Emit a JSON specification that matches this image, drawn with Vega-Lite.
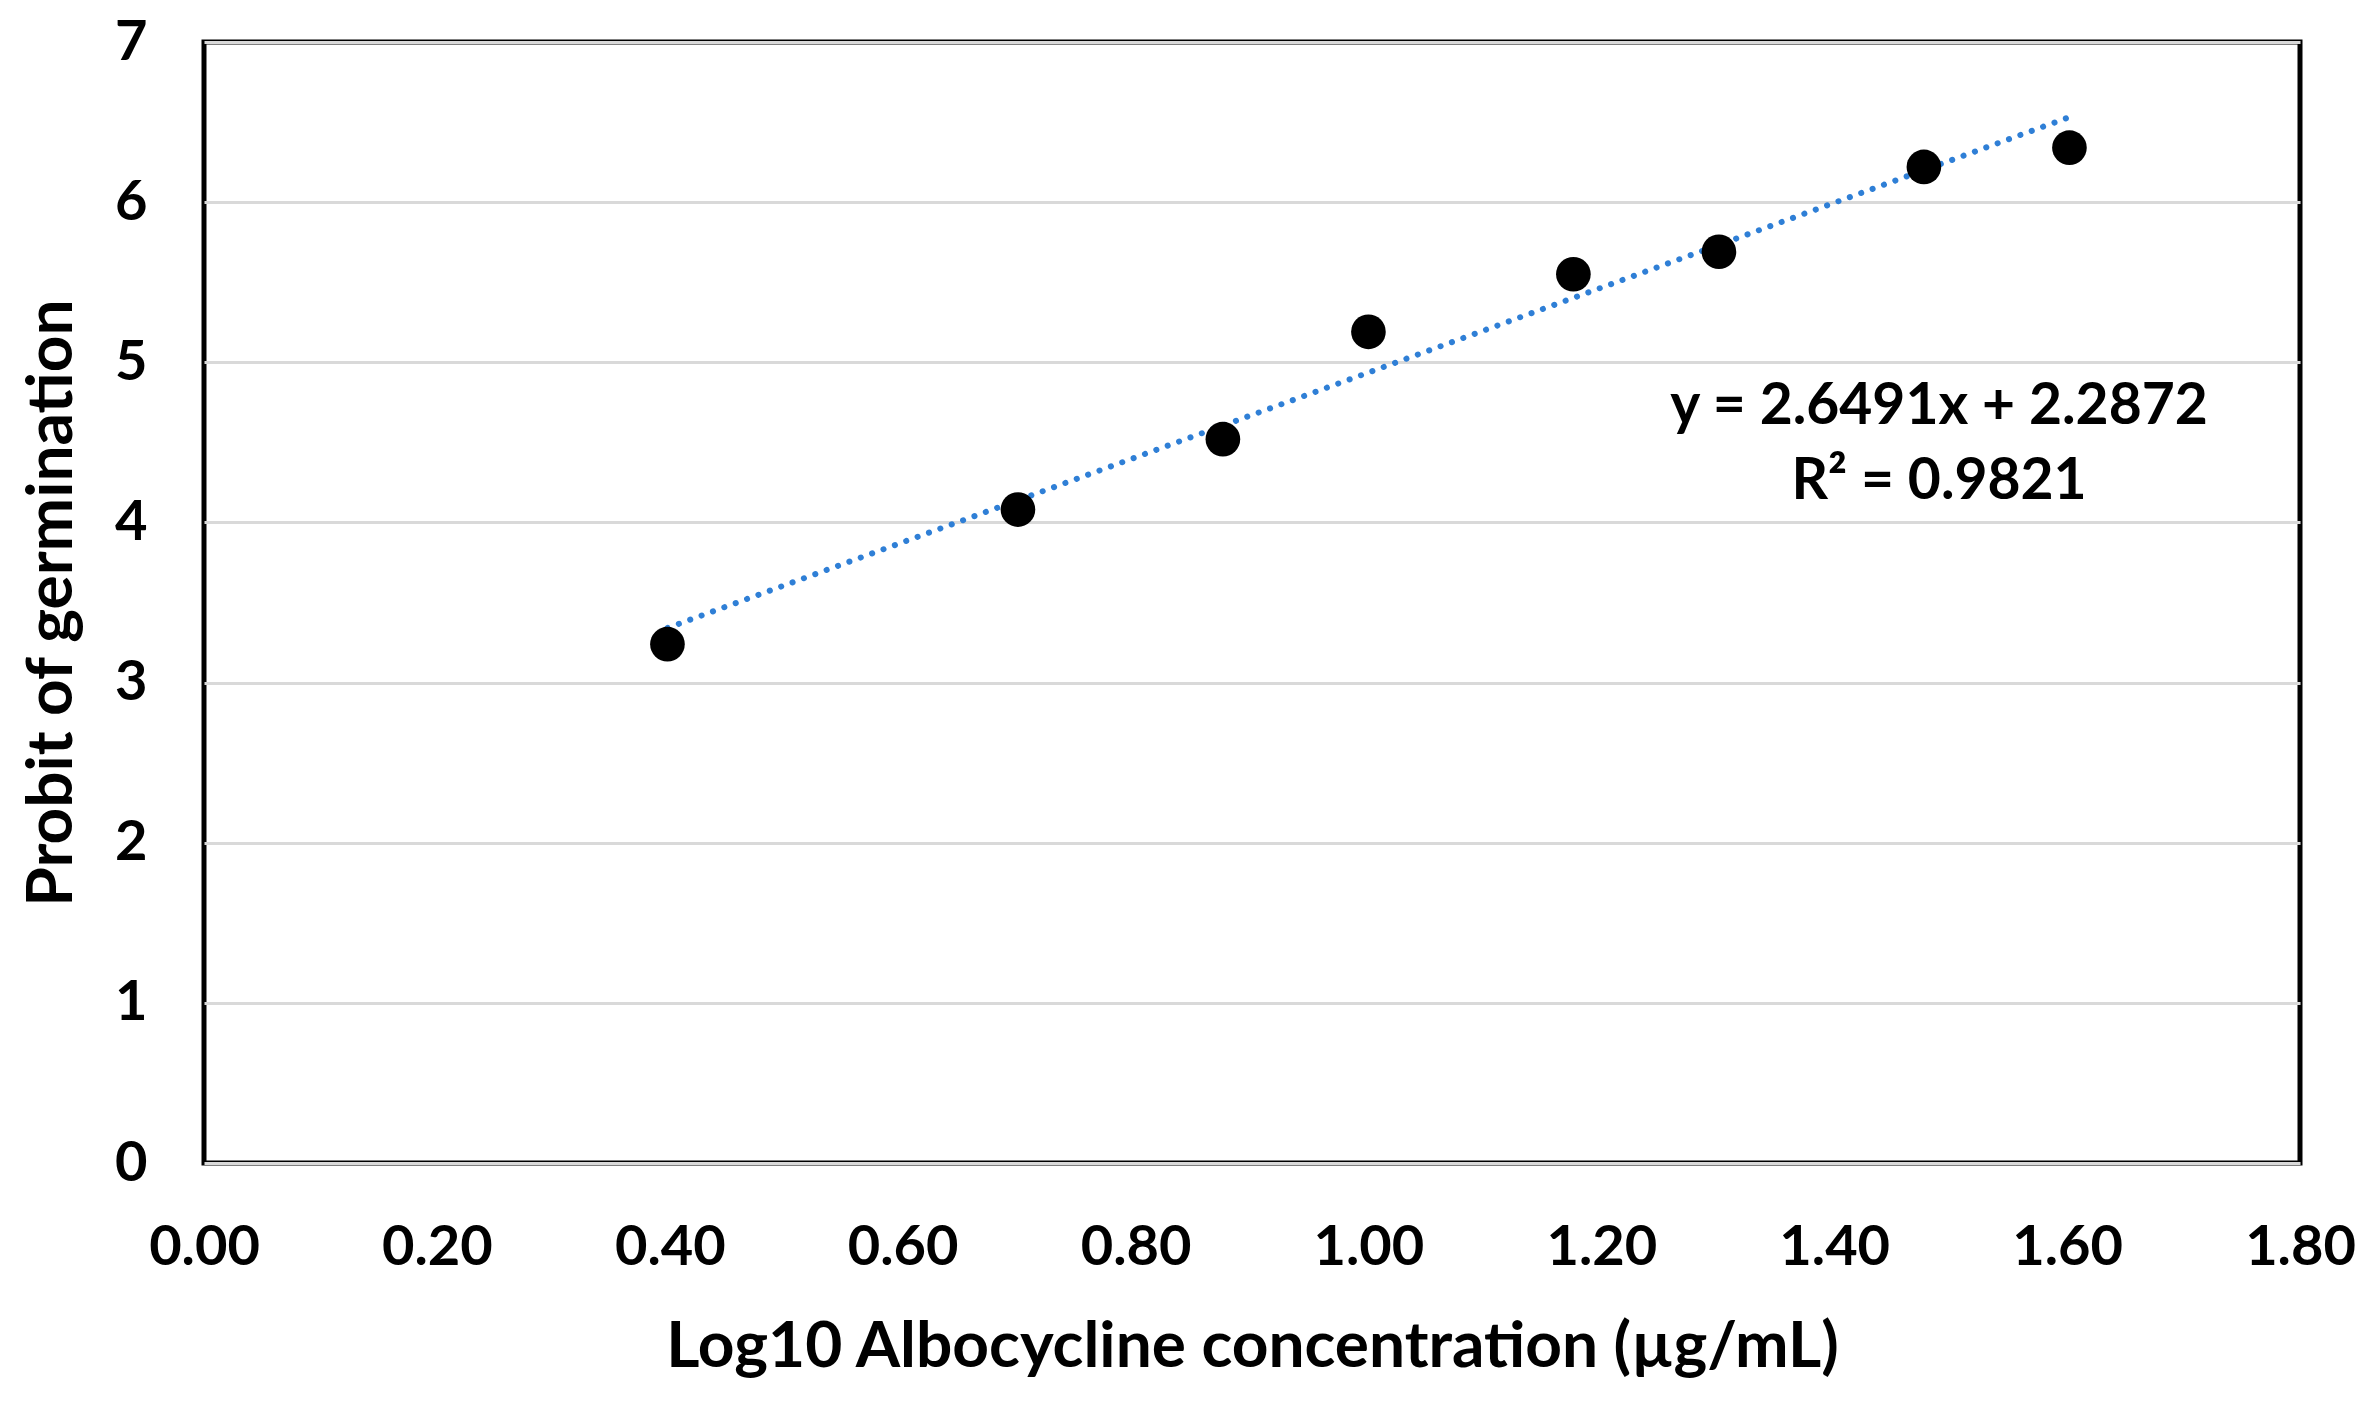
{
  "$schema": "https://vega.github.io/schema/vega-lite/v6.json",
  "width": 2096,
  "height": 1121,
  "autosize": "none",
  "padding": {"left": 204, "top": 42, "right": 72, "bottom": 253},
  "background": "white",
  "config": {
    "view": {"stroke": "black", "strokeWidth": 5},
    "font": "Lato"
  },
  "encoding": {
    "x": {
      "field": "x",
      "type": "quantitative",
      "scale": {"domain": [0, 1.8], "nice": false, "zero": false},
      "axis": {
        "values": [0, 0.2, 0.4, 0.6, 0.8, 1.0, 1.2, 1.4, 1.6, 1.8],
        "format": ".2f",
        "grid": false,
        "ticks": false,
        "domain": false,
        "labelFlush": false,
        "labelOverlap": false,
        "labelFontSize": 56,
        "labelFontWeight": "bold",
        "labelColor": "black",
        "labelPadding": 57,
        "title": "Log10 Albocycline concentration (µg/mL)",
        "titleFontSize": 64,
        "titleFontWeight": "bold",
        "titleColor": "black",
        "titlePadding": 40
      }
    },
    "y": {
      "field": "y",
      "type": "quantitative",
      "scale": {"domain": [0, 7], "nice": false},
      "axis": {
        "values": [0, 1, 2, 3, 4, 5, 6, 7],
        "grid": true,
        "gridColor": "#d9d9d9",
        "gridWidth": 3,
        "ticks": false,
        "domain": false,
        "labelOverlap": false,
        "labelFontSize": 56,
        "labelFontWeight": "bold",
        "labelColor": "black",
        "labelPadding": 57,
        "title": "Probit of germination",
        "titleFontSize": 64,
        "titleFontWeight": "bold",
        "titleColor": "black",
        "titlePadding": 30
      }
    }
  },
  "layer": [
    {
      "data": {"values": [
        {"x": 0.398, "y": 3.341},
        {"x": 1.602, "y": 6.531}
      ]},
      "mark": {"type": "line", "color": "#2f7fd6", "strokeWidth": 6, "strokeDash": [0.1, 12], "strokeCap": "round"}
    },
    {
      "data": {"values": [
        {"x": 0.398, "y": 3.24},
        {"x": 0.699, "y": 4.08},
        {"x": 0.875, "y": 4.52},
        {"x": 1.0, "y": 5.19},
        {"x": 1.176, "y": 5.55},
        {"x": 1.301, "y": 5.69},
        {"x": 1.477, "y": 6.22},
        {"x": 1.602, "y": 6.34}
      ]},
      "mark": {"type": "point", "filled": true, "color": "black", "opacity": 1, "size": 1200}
    },
    {
      "data": {"values": [
        {"x": 1.49, "y": 4.615, "label": "y = 2.6491x + 2.2872"},
        {"x": 1.49, "y": 4.146, "label": "R² = 0.9821"}
      ]},
      "mark": {"type": "text", "fontSize": 57, "fontWeight": "bold", "color": "black", "align": "center", "baseline": "alphabetic"},
      "encoding": {"text": {"field": "label"}}
    }
  ]
}
